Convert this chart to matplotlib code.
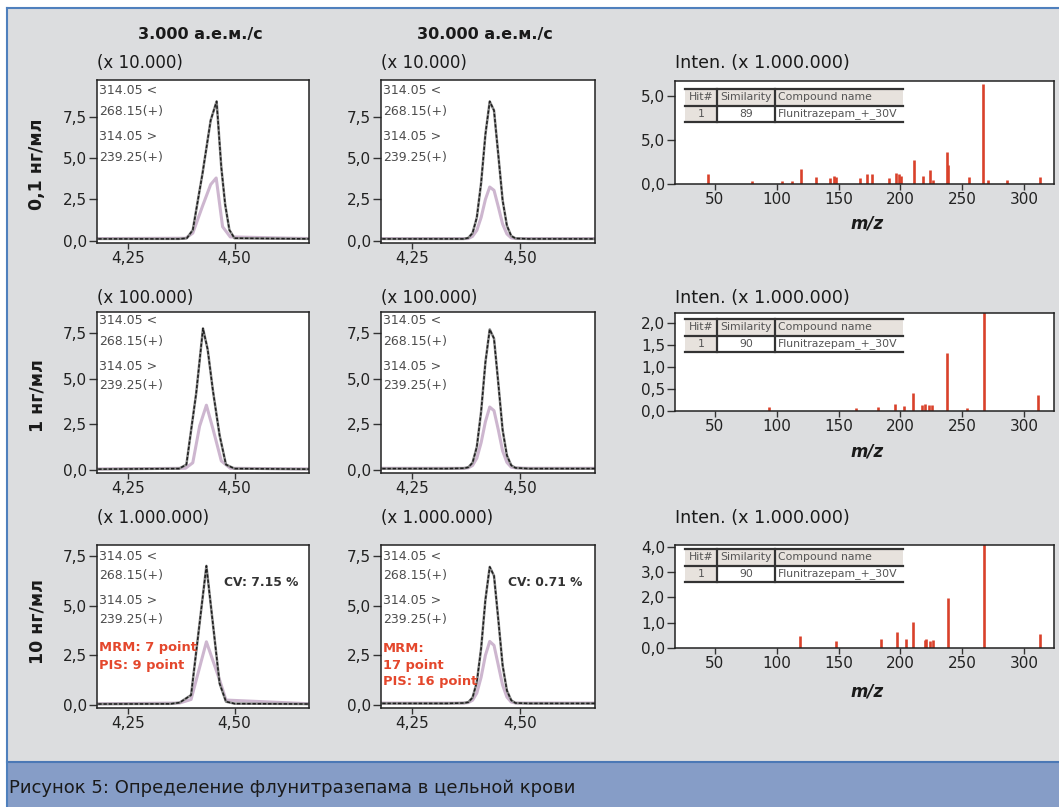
import matplotlib
matplotlib.use('Agg')
import matplotlib.pyplot as plt
from matplotlib.patches import Rectangle

W, H = 1059, 807

# --- text ---
col_titles = ['3.000 а.е.м./с', '30.000 а.е.м./с']
row_labels = ['0,1 нг/мл', '1 нг/мл', '10 нг/мл']
scale_labels = ['(x 10.000)', '(x 100.000)', '(x 1.000.000)']
trace_labels = ['314.05 <', '268.15(+)', '314.05 >', '239.25(+)']
cv_labels = ['CV: 7.15 %', 'CV: 0.71 %']
point_labels = [['MRM: 7 point', 'PIS: 9 point'], ['MRM:', '17 point', 'PIS: 16 point']]
similarity = ['89', '90', '90']
caption = 'Рисунок 5: Определение флунитразепама в цельной крови'

# --- chromatograms, 3.000 amu/s (column 1) ---
t268_r1c1 = [4.18, 4.37, 4.388, 4.402, 4.425, 4.444, 4.458, 4.469, 4.478, 4.488, 4.50, 4.68]
q268_r1c1 = [0.1, 0.1, 0.14, 0.64, 4.1, 7.3, 8.45, 4.45, 2.2, 0.64, 0.14, 0.1]
t239_r1c1 = [4.18, 4.385, 4.402, 4.425, 4.444, 4.457, 4.472, 4.49, 4.68]
q239_r1c1 = [0.12, 0.14, 0.45, 2.1, 3.4, 3.8, 0.84, 0.22, 0.12]

t268_r2c1 = [4.18, 4.37, 4.387, 4.41, 4.426, 4.437, 4.449, 4.465, 4.48, 4.50, 4.68]
q268_r2c1 = [0.05, 0.08, 0.3, 4.2, 7.75, 6.6, 4.4, 1.9, 0.3, 0.08, 0.05]
t239_r2c1 = [4.18, 4.385, 4.402, 4.418, 4.434, 4.45, 4.469, 4.49, 4.68]
q239_r2c1 = [0.06, 0.1, 0.4, 2.4, 3.55, 2.2, 0.5, 0.1, 0.06]

t268_r3c1 = [4.18, 4.35, 4.371, 4.398, 4.434, 4.465, 4.48, 4.50, 4.68]
q268_r3c1 = [0.05, 0.06, 0.12, 0.5, 7.0, 1.09, 0.17, 0.07, 0.05]
t239_r3c1 = [4.18, 4.371, 4.398, 4.434, 4.465, 4.48, 4.68]
q239_r3c1 = [0.06, 0.1, 0.28, 3.18, 1.26, 0.25, 0.06]

# --- chromatograms, 30.000 amu/s (column 2), common time grid ---
t_fast = [4.18, 4.33, 4.37, 4.38, 4.39, 4.40, 4.41, 4.42, 4.43, 4.44, 4.45, 4.46, 4.47, 4.48, 4.49, 4.52, 4.68]
q268_r1c2 = [0.1, 0.1, 0.1, 0.16, 0.45, 1.4, 3.5, 6.45, 8.45, 7.9, 5.2, 2.45, 0.9, 0.28, 0.13, 0.1, 0.1]
q239_r1c2 = [0.12, 0.12, 0.12, 0.12, 0.25, 0.62, 1.4, 2.5, 3.25, 3.05, 2.05, 1.0, 0.4, 0.16, 0.12, 0.12, 0.12]
q268_r2c2 = [0.08, 0.08, 0.1, 0.15, 0.4, 1.27, 3.2, 5.9, 7.7, 7.2, 4.75, 2.2, 0.8, 0.26, 0.12, 0.08, 0.08]
q239_r2c2 = [0.1, 0.1, 0.1, 0.12, 0.25, 0.65, 1.5, 2.65, 3.45, 3.25, 2.2, 1.05, 0.42, 0.16, 0.12, 0.1, 0.1]
q268_r3c2 = [0.08, 0.08, 0.1, 0.14, 0.37, 1.15, 2.85, 5.3, 6.95, 6.5, 4.3, 2.0, 0.73, 0.24, 0.1, 0.08, 0.08]
q239_r3c2 = [0.1, 0.1, 0.1, 0.12, 0.24, 0.6, 1.4, 2.5, 3.2, 3.0, 2.0, 1.0, 0.4, 0.15, 0.1, 0.1, 0.1]

chrom = [
    [(t268_r1c1, q268_r1c1, t239_r1c1, q239_r1c1), (t_fast, q268_r1c2, t_fast, q239_r1c2)],
    [(t268_r2c1, q268_r2c1, t239_r2c1, q239_r2c1), (t_fast, q268_r2c2, t_fast, q239_r2c2)],
    [(t268_r3c1, q268_r3c1, t239_r3c1, q239_r3c1), (t_fast, q268_r3c2, t_fast, q239_r3c2)],
]
chrom_ylim = [(-0.15, 9.75), (-0.16, 8.65), (-0.15, 8.05)]

# --- product ion spectra (x 1.000.000) ---
mz_r1 = [44, 80, 104.5, 112.6, 120, 132, 143.4, 146.1, 148.3, 167.1, 173, 177, 190.4, 196.6,
         198.5, 200.6, 211.1, 218.1, 224, 226.7, 237.4, 238.8, 255.7, 267, 271, 285.8, 312.6]
int_r1 = [0.58, 0.19, 0.19, 0.19, 0.85, 0.39, 0.34, 0.43, 0.39, 0.34, 0.58, 0.55, 0.34, 0.62,
          0.58, 0.47, 1.37, 0.43, 0.77, 0.24, 1.84, 1.09, 0.39, 5.7, 0.24, 0.24, 0.39]
mz_r2 = [93.8, 163.7, 181.7, 196, 202.7, 209.9, 217.5, 220, 222.9, 225.6, 237.6, 253.8, 267.2, 311.6]
int_r2 = [0.1, 0.07, 0.1, 0.15, 0.12, 0.4, 0.13, 0.15, 0.14, 0.13, 1.32, 0.07, 2.6, 0.36]
mz_r3 = [118.7, 147.5, 183.9, 197.4, 204.9, 210.3, 219.7, 221, 224.3, 226.5, 238.6, 267.4, 312.7]
int_r3 = [0.47, 0.27, 0.36, 0.64, 0.34, 1.01, 0.3, 0.34, 0.27, 0.3, 1.96, 4.5, 0.54]
spectra = [(mz_r1, int_r1), (mz_r2, int_r2), (mz_r3, int_r3)]
spec_ylim = [(0, 5.85), (0, 2.23), (0, 4.07)]
spec_yticks = [[0, 2.5, 5.0], [0, 0.5, 1.0, 1.5, 2.0], [0, 1, 2, 3, 4]]
spec_yticklabels = [['0,0', '5,0', '5,0'], ['0,0', '0,5', '1,0', '1,5', '2,0'],
                    ['0,0', '1,0', '2,0', '3,0', '4,0']]
mz_ticks = [50, 100, 150, 200, 250, 300]

# --- layout in pixels ---
chrom_x = [(97, 309), (381, 595)]
chrom_y = [(80, 243), (312, 473), (545, 708)]
spec_x = (675, 1054)
spec_y = [(81, 184), (313, 411), (545, 648)]

GRAY_TXT = '#4d4d4d'
RED = '#e4472c'
BAR = '#d9412b'


def box(x0, x1, y0, y1):
    return [x0 / W, 1 - y1 / H, (x1 - x0) / W, (y1 - y0) / H]


def style(ax):
    ax.set_facecolor('white')
    for s in ['top', 'right', 'left', 'bottom']:
        ax.spines[s].set_color('#222222')
        ax.spines[s].set_linewidth(1.1)
    ax.tick_params(axis='y', direction='out', length=6, width=1, labelsize=11, pad=1,
                   color='#333333', labelcolor='#222222')
    ax.tick_params(axis='x', direction='out', length=4, width=1, labelsize=11, pad=2,
                   color='#333333', labelcolor='#222222')


fig = plt.figure(figsize=(W / 100, H / 100), dpi=100, facecolor='white')

bg = fig.add_axes([0, 0, 1, 1], zorder=0)
bg.set_xlim(0, W)
bg.set_ylim(H, 0)
bg.axis('off')
bg.add_patch(Rectangle((7, 8), W - 7, 754, facecolor='#dcdddf', edgecolor='none'))
bg.add_patch(Rectangle((7, 762), W - 7, H - 762, facecolor='#869dc7', edgecolor='none'))
bg.plot([7, W], [762, 762], color='#4b78b5', lw=1.5)
bg.plot([7, W], [8, 8], color='#4f80bd', lw=1.5)
bg.plot([7, 7], [8, H], color='#4f80bd', lw=1.5)

# chromatograms
for r in range(3):
    for c in range(2):
        ax = fig.add_axes(box(*chrom_x[c], *chrom_y[r]), zorder=2)
        style(ax)
        t1, q1, t2, q2 = chrom[r][c]
        ax.plot(t2, q2, color='#cdb6cf', lw=2.2, solid_joinstyle='round')
        ax.plot(t1, q1, color='#8a8a8a', lw=1.8)
        ax.plot(t1, q1, color='#1e1e1e', lw=1.1, ls=(0, (2.2, 1.2)))
        ax.set_xlim(4.177, 4.675)
        ax.set_ylim(*chrom_ylim[r])
        ax.set_xticks([4.25, 4.50])
        ax.set_xticklabels(['4,25', '4,50'])
        ax.set_yticks([0, 2.5, 5.0, 7.5])
        ax.set_yticklabels(['0,0', '2,5', '5,0', '7,5'])

# spectra
for r in range(3):
    ax = fig.add_axes(box(*spec_x, *spec_y[r]), zorder=2)
    style(ax)
    mz, inten = spectra[r]
    ax.vlines(mz, 0, inten, color=BAR, lw=1.9)
    ax.set_xlim(17.7, 324.2)
    ax.set_ylim(*spec_ylim[r])
    ax.set_xticks(mz_ticks)
    ax.set_yticks(spec_yticks[r])
    ax.set_yticklabels(spec_yticklabels[r])

ov = fig.add_axes([0, 0, 1, 1], zorder=5)
ov.set_xlim(0, W)
ov.set_ylim(H, 0)
ov.axis('off')
ov.patch.set_alpha(0)

# column titles and row labels
for x, s in zip([200, 485], col_titles):
    ov.text(x, 35, s, ha='center', va='center', fontsize=11.5, fontweight='bold', color='#1a1a1a')
for y, s in zip([164, 396, 622], row_labels):
    ov.text(37, y, s, ha='center', va='center', rotation=90, fontsize=12.5,
            fontweight='bold', color='#1a1a1a')

scale_y = [63, 298, 518]
for r in range(3):
    for c in range(2):
        ov.text(chrom_x[c][0], scale_y[r], scale_labels[r], ha='left', va='center',
                fontsize=12, color='#1a1a1a')
    ov.text(spec_x[0], scale_y[r], 'Inten. (x 1.000.000)', ha='left', va='center',
            fontsize=12.6, color='#1a1a1a')

# trace labels inside chromatograms
label_y = [[91, 112, 137, 157], [320, 342, 367, 385], [556, 576, 600, 619]]
for r in range(3):
    for c in range(2):
        for y, s in zip(label_y[r], trace_labels):
            ov.text(chrom_x[c][0] + 2, y, s, ha='left', va='center', fontsize=9, color=GRAY_TXT)

for x, s in zip([261, 545], cv_labels):
    ov.text(x, 582, s, ha='center', va='center', fontsize=8.8, fontweight='bold', color='#333333')
point_y = [[648, 666], [648, 665, 682]]
for c in range(2):
    for y, s in zip(point_y[c], point_labels[c]):
        ov.text(chrom_x[c][0] + 2, y, s, ha='left', va='center', fontsize=9.4,
                fontweight='bold', color=RED)

# m/z labels
for y in [224, 452, 692]:
    ov.text(867, y, 'm/z', ha='center', va='center', fontsize=12, fontweight='bold',
            style='italic', color='#1a1a1a')

# library hit tables
col_edges = [685, 717, 775, 903]
table_top = [89, 319, 549]
for r in range(3):
    y0 = table_top[r]
    y1 = y0 + 17
    y2 = y1 + 16
    ov.add_patch(Rectangle((col_edges[0], y0), col_edges[3] - col_edges[0], 17,
                           facecolor='#e7e2dd', edgecolor='none'))
    ov.add_patch(Rectangle((col_edges[0], y1), col_edges[1] - col_edges[0], 16,
                           facecolor='#e7e2dd', edgecolor='none'))
    ov.add_patch(Rectangle((col_edges[1], y1), col_edges[3] - col_edges[1], 16,
                           facecolor='white', edgecolor='none'))
    for y in [y0, y1, y2]:
        ov.plot([col_edges[0], col_edges[3]], [y, y], color='#333333', lw=1.6)
    for x in col_edges[1:3]:
        ov.plot([x, x], [y0, y2], color='#333333', lw=1.6)
    ym0 = (y0 + y1) / 2
    ym1 = (y1 + y2) / 2
    ov.text((col_edges[0] + col_edges[1]) / 2, ym0, 'Hit#', ha='center', va='center',
            fontsize=7.8, color='#555555')
    ov.text((col_edges[1] + col_edges[2]) / 2, ym0, 'Similarity', ha='center', va='center',
            fontsize=7.8, color='#555555')
    ov.text(col_edges[2] + 3, ym0, 'Compound name', ha='left', va='center',
            fontsize=7.8, color='#555555')
    ov.text((col_edges[0] + col_edges[1]) / 2, ym1, '1', ha='center', va='center',
            fontsize=7.8, color='#555555')
    ov.text((col_edges[1] + col_edges[2]) / 2, ym1, similarity[r], ha='center', va='center',
            fontsize=7.8, color='#555555')
    ov.text(col_edges[2] + 3, ym1, 'Flunitrazepam_+_30V', ha='left', va='center',
            fontsize=7.8, color='#555555')

ov.text(9, 788, caption, ha='left', va='center', fontsize=13, color='#1a1a1a')

fig.savefig('out.png', dpi=100, facecolor='white')
